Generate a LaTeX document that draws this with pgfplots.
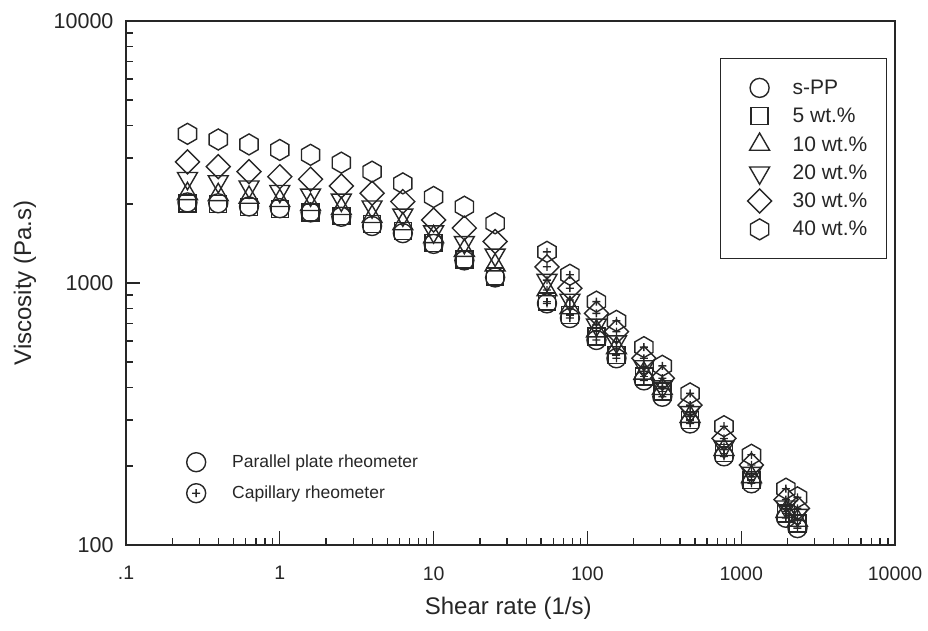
\documentclass[border=0pt]{standalone}
\usepackage{fontspec}
\setmainfont{Liberation Sans}
\usepackage{pgfplots}
\pgfplotsset{compat=1.18}

% open marks; the "p" variants carry a small plus inside
\newcommand\innerplus{%
  \pgfpathmoveto{\pgfqpoint{-4pt}{0pt}}\pgfpathlineto{\pgfqpoint{4pt}{0pt}}%
  \pgfpathmoveto{\pgfqpoint{0pt}{-4pt}}\pgfpathlineto{\pgfqpoint{0pt}{4pt}}}
\newcommand\circpath{\pgfpathcircle{\pgfpointorigin}{9.5pt}}
\newcommand\sqpath{\pgfpathrectangle{\pgfqpoint{-8.5pt}{-8.5pt}}{\pgfqpoint{17pt}{17pt}}}
\newcommand\utripath{%
  \pgfpathmoveto{\pgfqpointpolar{90}{11.5pt}}\pgfpathlineto{\pgfqpointpolar{210}{11.5pt}}%
  \pgfpathlineto{\pgfqpointpolar{330}{11.5pt}}\pgfpathclose}
\newcommand\dtripath{%
  \pgfpathmoveto{\pgfqpointpolar{270}{11.5pt}}\pgfpathlineto{\pgfqpointpolar{30}{11.5pt}}%
  \pgfpathlineto{\pgfqpointpolar{150}{11.5pt}}\pgfpathclose}
\newcommand\rhombpath{%
  \pgfpathmoveto{\pgfqpoint{0pt}{12pt}}\pgfpathlineto{\pgfqpoint{12pt}{0pt}}%
  \pgfpathlineto{\pgfqpoint{0pt}{-12pt}}\pgfpathlineto{\pgfqpoint{-12pt}{0pt}}\pgfpathclose}
\newcommand\hexpath{%
  \pgfpathmoveto{\pgfqpointpolar{90}{10.5pt}}\pgfpathlineto{\pgfqpointpolar{150}{10.5pt}}%
  \pgfpathlineto{\pgfqpointpolar{210}{10.5pt}}\pgfpathlineto{\pgfqpointpolar{270}{10.5pt}}%
  \pgfpathlineto{\pgfqpointpolar{330}{10.5pt}}\pgfpathlineto{\pgfqpointpolar{30}{10.5pt}}\pgfpathclose}

\pgfdeclareplotmark{circ}{\circpath\pgfusepathqstroke}
\pgfdeclareplotmark{sq}{\sqpath\pgfusepathqstroke}
\pgfdeclareplotmark{utri}{\utripath\pgfusepathqstroke}
\pgfdeclareplotmark{dtri}{\dtripath\pgfusepathqstroke}
\pgfdeclareplotmark{rhomb}{\rhombpath\pgfusepathqstroke}
\pgfdeclareplotmark{hex}{\hexpath\pgfusepathqstroke}
\pgfdeclareplotmark{circp}{\circpath\innerplus\pgfusepathqstroke}
\pgfdeclareplotmark{sqp}{\sqpath\innerplus\pgfusepathqstroke}
\pgfdeclareplotmark{utrip}{\utripath\innerplus\pgfusepathqstroke}
\pgfdeclareplotmark{dtrip}{\dtripath\innerplus\pgfusepathqstroke}
\pgfdeclareplotmark{rhombp}{\rhombpath\innerplus\pgfusepathqstroke}
\pgfdeclareplotmark{hexp}{\hexpath\innerplus\pgfusepathqstroke}

\definecolor{ink}{gray}{0.15}

\pgfplotsset{
  pts/.style={only marks, mark=#1, line width=1.4pt, color=ink,
    legend image code/.code={%
      \path[draw=none, fill=none] (0pt,-12.7pt) rectangle (33pt,12.7pt);
      \draw[##1] plot coordinates {(20pt,0pt)};}},
}

\begin{document}
\begin{tikzpicture}
\useasboundingbox (0,0) rectangle (928pt,630pt);
\begin{axis}[
  at={(126pt,85pt)}, anchor=south west,
  scale only axis, width=769pt, height=524pt,
  xmode=log, ymode=log,
  xmin=0.1, xmax=10000, ymin=100, ymax=10000,
  axis line style={line width=1.5pt, color=ink},
  tick style={line width=1.3pt, color=ink},
  tick align=inside, tick pos=left,
  major tick length=14pt, minor tick length=7pt,
  xtick={0.1,1,10,100,1000,10000},
  minor xtick={0.2,0.3,0.4,0.5,0.6,0.7,0.8,0.9,2,3,4,5,6,7,8,9,
    20,30,40,50,60,70,80,90,200,300,400,500,600,700,800,900,
    2000,3000,4000,5000,6000,7000,8000,9000},
  ytick={100,1000,10000},
  minor ytick={200,300,400,500,600,700,800,900,2000,3000,4000,5000,6000,7000,8000,9000},
  xticklabels={.1,1,10,100,1000,10000},
  yticklabels={100,1000,10000},
  xticklabel style={font=\fontsize{19.5}{19.5}\selectfont, yshift=-18pt, color=ink},
  yticklabel style={font=\fontsize{21.5}{21.5}\selectfont, xshift=-9pt, color=ink},
  xlabel={Shear rate (1/s)}, ylabel={Viscosity (Pa.s)},
  label style={font=\fontsize{24}{24}\selectfont, color=ink},
  xlabel style={at={(axis description cs:0.497,-0.1202)}, anchor=center},
  ylabel style={at={(axis description cs:-0.1313,0.5)}, anchor=center},
  legend style={at={(axis description cs:0.9896,0.9294)}, anchor=north east,
    draw=ink, line width=1.4pt, inner xsep=19pt, inner ysep=16.5pt,
    row sep=2.9pt, column sep=20pt,
    nodes={text=ink, inner sep=0pt, font=\fontsize{21}{21}\selectfont}},
  legend cell align=left,
]
% parallel plate rheometer
\addplot[pts=circ] coordinates {(0.251,2030) (0.398,2015) (0.631,1960) (1.0,1930) (1.585,1860) (2.512,1790) (3.981,1650) (6.31,1550) (10.0,1410) (15.85,1220) (25.12,1050)};
\addlegendentry{s-PP}
\addplot[pts=sq] coordinates {(0.251,2010) (0.398,2000) (0.631,1950) (1.0,1920) (1.585,1860) (2.512,1800) (3.981,1680) (6.31,1580) (10.0,1420) (15.85,1230) (25.12,1057)};
\addlegendentry{5 wt.\%}
\addplot[pts=utri] coordinates {(0.251,2190) (0.398,2170) (0.631,2120) (1.0,2060) (1.585,1990) (2.512,1920) (3.981,1790) (6.31,1680) (10.0,1500) (15.85,1330) (25.12,1170)};
\addlegendentry{10 wt.\%}
\addplot[pts=dtri] coordinates {(0.251,2510) (0.398,2440) (0.631,2330) (1.0,2240) (1.585,2170) (2.512,2075) (3.981,1955) (6.31,1820) (10.0,1570) (15.85,1430) (25.12,1280)};
\addlegendentry{20 wt.\%}
\addplot[pts=rhomb] coordinates {(0.251,2900) (0.398,2780) (0.631,2660) (1.0,2545) (1.585,2490) (2.512,2345) (3.981,2200) (6.31,2045) (10.0,1740) (15.85,1620) (25.12,1440)};
\addlegendentry{30 wt.\%}
\addplot[pts=hex] coordinates {(0.251,3710) (0.398,3530) (0.631,3380) (1.0,3220) (1.585,3085) (2.512,2880) (3.981,2660) (6.31,2400) (10.0,2130) (15.85,1955) (25.12,1690)};
\addlegendentry{40 wt.\%}
% capillary rheometer
\addplot[pts=circp, forget plot] coordinates {(54.6,836) (77,735) (114.5,606) (154.5,516) (233,425) (307,368) (465,291) (773,218) (1166,172) (1954,127) (2322,116)};
\addplot[pts=sqp, forget plot] coordinates {(54.6,849) (77,755) (114.5,624) (154.5,531) (233,439) (307,385) (465,300) (773,224) (1166,177) (1954,132) (2322,121)};
\addplot[pts=utrip, forget plot] coordinates {(54.6,940) (77,803) (114.5,655) (154.5,565) (233,452) (307,395) (465,309) (773,231) (1166,182) (1954,134) (2322,124)};
\addplot[pts=dtrip, forget plot] coordinates {(54.6,1025) (77,861) (114.5,692) (154.5,597) (233,480) (307,402) (465,321) (773,237) (1166,188) (1954,140) (2322,130)};
\addplot[pts=rhombp, forget plot] coordinates {(54.6,1153) (77,955) (114.5,766) (154.5,652) (233,516) (307,433) (465,342) (773,255) (1166,202) (1954,149) (2322,138)};
\addplot[pts=hexp, forget plot] coordinates {(54.6,1315) (77,1075) (114.5,849) (154.5,717) (233,569) (307,483) (465,379) (773,284) (1166,221) (1954,164) (2322,152)};
\end{axis}

% key to the two instruments
\begin{axis}[
  at={(126pt,85pt)}, anchor=south west,
  scale only axis, width=769pt, height=524pt,
  xmin=0, xmax=1, ymin=0, ymax=1, hide axis,
  legend style={at={(axis description cs:0.065,0.1826)}, anchor=north west,
    draw=none, fill=none, inner sep=0pt,
    row sep=5.6pt, column sep=23pt,
    nodes={text=ink, inner sep=0pt, font=\fontsize{17.5}{17.5}\selectfont}},
  legend cell align=left,
]
\addlegendimage{pts=circ}
\addlegendentry{Parallel plate rheometer}
\addlegendimage{pts=circp}
\addlegendentry{Capillary rheometer}
\end{axis}
\end{tikzpicture}
\end{document}
